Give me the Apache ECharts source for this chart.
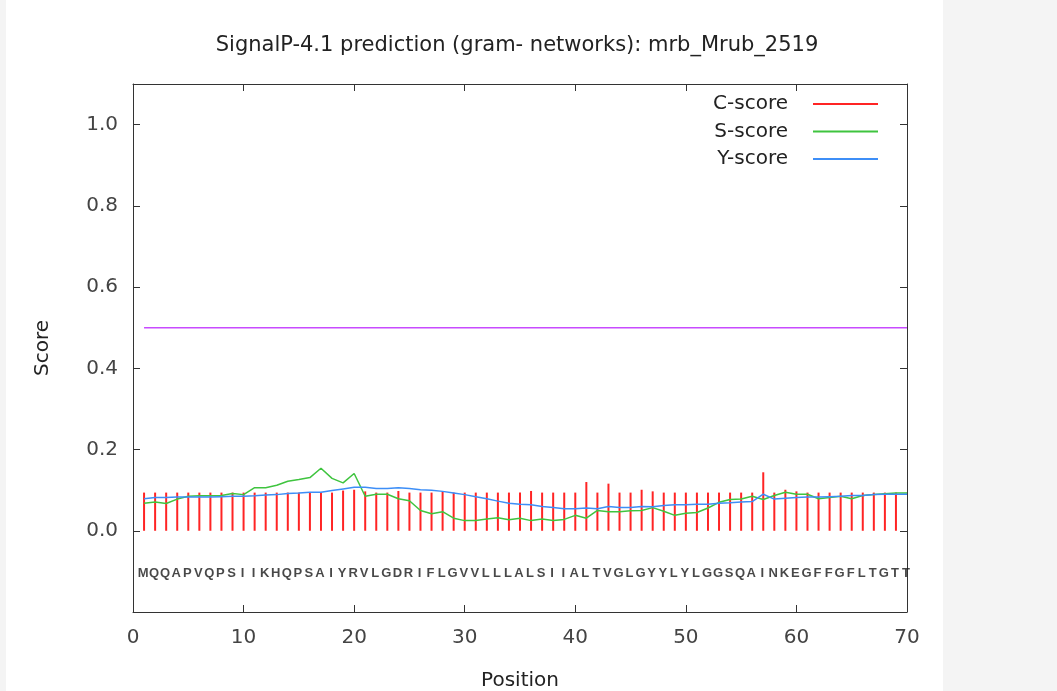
<!DOCTYPE html>
<html>
<head>
<meta charset="utf-8">
<script src="https://cdn.jsdelivr.net/npm/echarts@6/dist/echarts.min.js"></script>
<style>
  html, body { margin: 0; padding: 0; background: #f4f4f4; }
  #chart { width: 1057px; height: 691px; }
</style>
</head>
<body>
<div id="chart"></div>
<script>
// residues of mrb_Mrub_2519, one per position 1..70
let sequence = 'MQQAPVQPSIIKHQPSAIYRVLGDRIFLGVVLLLALSIIALTVGLGYYLYLGGSQAINKEGFFGFLTGTT'.split('')

// C-score, positions 1..69
let cScore = [
    0.094, 0.094, 0.094, 0.094, 0.094, 0.094, 0.094, 0.094, 0.094, 0.094,
    0.094, 0.094, 0.094, 0.094, 0.094, 0.094, 0.094, 0.094, 0.099, 0.101,
    0.097, 0.094, 0.094, 0.098, 0.094, 0.094, 0.094, 0.097, 0.094, 0.094,
    0.094, 0.094, 0.094, 0.094, 0.094, 0.098, 0.094, 0.094, 0.094, 0.094,
    0.120, 0.094, 0.116, 0.094, 0.094, 0.101, 0.097, 0.094, 0.094, 0.094,
    0.094, 0.094, 0.094, 0.094, 0.094, 0.094, 0.144, 0.094, 0.101, 0.097,
    0.094, 0.094, 0.094, 0.094, 0.094, 0.094, 0.094, 0.094, 0.094
]

// S-score, positions 1..70
let sScore = [
    0.068, 0.071, 0.067, 0.078, 0.085, 0.086, 0.086, 0.087, 0.092, 0.089,
    0.106, 0.106, 0.112, 0.122, 0.126, 0.131, 0.154, 0.129, 0.118, 0.141,
    0.085, 0.090, 0.090, 0.079, 0.074, 0.050, 0.042, 0.047, 0.031, 0.025,
    0.025, 0.029, 0.032, 0.027, 0.031, 0.025, 0.029, 0.025, 0.028, 0.038,
    0.031, 0.050, 0.047, 0.047, 0.049, 0.050, 0.057, 0.048, 0.038, 0.043,
    0.045, 0.056, 0.070, 0.077, 0.078, 0.085, 0.077, 0.087, 0.095, 0.090,
    0.090, 0.079, 0.082, 0.085, 0.079, 0.087, 0.089, 0.091, 0.093, 0.093
]

// Y-score, positions 1..70
let yScore = [
    0.079, 0.082, 0.082, 0.083, 0.083, 0.083, 0.083, 0.084, 0.085, 0.085,
    0.086, 0.088, 0.089, 0.092, 0.093, 0.095, 0.095, 0.099, 0.103, 0.107,
    0.107, 0.104, 0.104, 0.106, 0.104, 0.101, 0.100, 0.097, 0.093, 0.089,
    0.084, 0.079, 0.073, 0.068, 0.065, 0.064, 0.060, 0.057, 0.054, 0.054,
    0.056, 0.054, 0.060, 0.057, 0.057, 0.060, 0.059, 0.062, 0.064, 0.064,
    0.065, 0.065, 0.068, 0.069, 0.071, 0.072, 0.090, 0.078, 0.080, 0.082,
    0.083, 0.083, 0.084, 0.085, 0.087, 0.087, 0.089, 0.090, 0.090, 0.090
]

// cutoff line and the row where the residues are written
let cutoff = [[1, 0.5], [70, 0.5]]
let seqRow = -0.1

let font = 'DejaVu Sans'
let chart = echarts.init(document.getElementById('chart'))

let axisCommon = {
    type: 'value',
    axisLine: { show: true, onZero: false, lineStyle: { color: '#333', width: 1 } },
    axisTick: { show: true, inside: true, length: 7, lineStyle: { color: '#333' } },
    splitLine: { show: false }
}

let option = {
    animation: false,
    textStyle: { fontFamily: font },
    graphic: [
        { type: 'rect', z: -10, silent: true, shape: { x: 6, y: 0, width: 937, height: 691 }, style: { fill: '#fff' } }
    ],
    title: {
        text: 'SignalP-4.1 prediction (gram- networks): mrb_Mrub_2519',
        left: 512, top: 30, textAlign: 'center',
        textStyle: { fontFamily: font, fontSize: 21, fontWeight: 'normal', color: '#222' }
    },
    legend: {
        orient: 'vertical',
        right: 174, top: 89,
        align: 'right',
        icon: 'rect',
        itemWidth: 65, itemHeight: 2,
        itemGap: 7.5,
        textStyle: { fontFamily: font, fontSize: 20, color: '#222', padding: [0, 20, 0, 0] },
        data: ['C-score', 'S-score', 'Y-score']
    },
    grid: { left: 133, right: 150, top: 84, bottom: 79, show: false, outerBoundsMode: 'none', containLabel: false },
    xAxis: [
        Object.assign({}, axisCommon, {
            min: 0, max: 70, interval: 10,
            name: 'Position', nameLocation: 'middle', nameGap: 59,
            nameTextStyle: { fontFamily: font, fontSize: 20, color: '#222' },
            axisLabel: { margin: 16, fontFamily: font, fontSize: 20, color: '#444' }
        }),
        Object.assign({}, axisCommon, {
            position: 'top', min: 0, max: 70, interval: 10,
            axisLabel: { show: false }
        })
    ],
    yAxis: [
        Object.assign({}, axisCommon, {
            min: -0.2, max: 1.1, interval: 0.2,
            name: 'Score', nameLocation: 'middle', nameGap: 80,
            nameTextStyle: { fontFamily: font, fontSize: 20, color: '#222' },
            axisLabel: {
                margin: 15, fontFamily: font, fontSize: 20, color: '#444',
                formatter: function (v) { return (v < -0.01 || v > 1.05) ? '' : v.toFixed(1) }
            }
        }),
        Object.assign({}, axisCommon, {
            position: 'right', min: -0.2, max: 1.1, interval: 0.2,
            axisLabel: { show: false }
        })
    ],
    series: [
        {
            name: 'C-score',
            type: 'bar',
            barWidth: 2,
            z: 2,
            itemStyle: { color: '#ff2424' },
            data: cScore.map((v, i) => [i + 1, v])
        },
        {
            name: 'S-score',
            type: 'line',
            z: 3,
            symbol: 'none',
            lineStyle: { color: '#3fc43f', width: 1.5 },
            itemStyle: { color: '#3fc43f' },
            data: sScore.map((v, i) => [i + 1, v])
        },
        {
            name: 'Y-score',
            type: 'line',
            z: 4,
            symbol: 'none',
            lineStyle: { color: '#3d8ef7', width: 1.5 },
            itemStyle: { color: '#3d8ef7' },
            data: yScore.map((v, i) => [i + 1, v])
        },
        {
            name: 'cutoff',
            type: 'line',
            z: 2,
            symbol: 'none',
            lineStyle: { color: '#c84bff', width: 1.5 },
            data: cutoff
        },
        {
            name: 'sequence',
            type: 'scatter',
            symbolSize: 0,
            silent: true,
            data: sequence.map((s, i) => [i + 1, seqRow]),
            label: {
                show: true,
                position: 'inside',
                offset: [-1, 2],
                fontFamily: 'Liberation Sans',
                fontSize: 13,
                fontWeight: 'bold',
                color: '#1a1a1a',
                formatter: function (p) { return sequence[p.dataIndex] }
            }
        }
    ]
};

chart.setOption(option);
</script>
</body>
</html>
